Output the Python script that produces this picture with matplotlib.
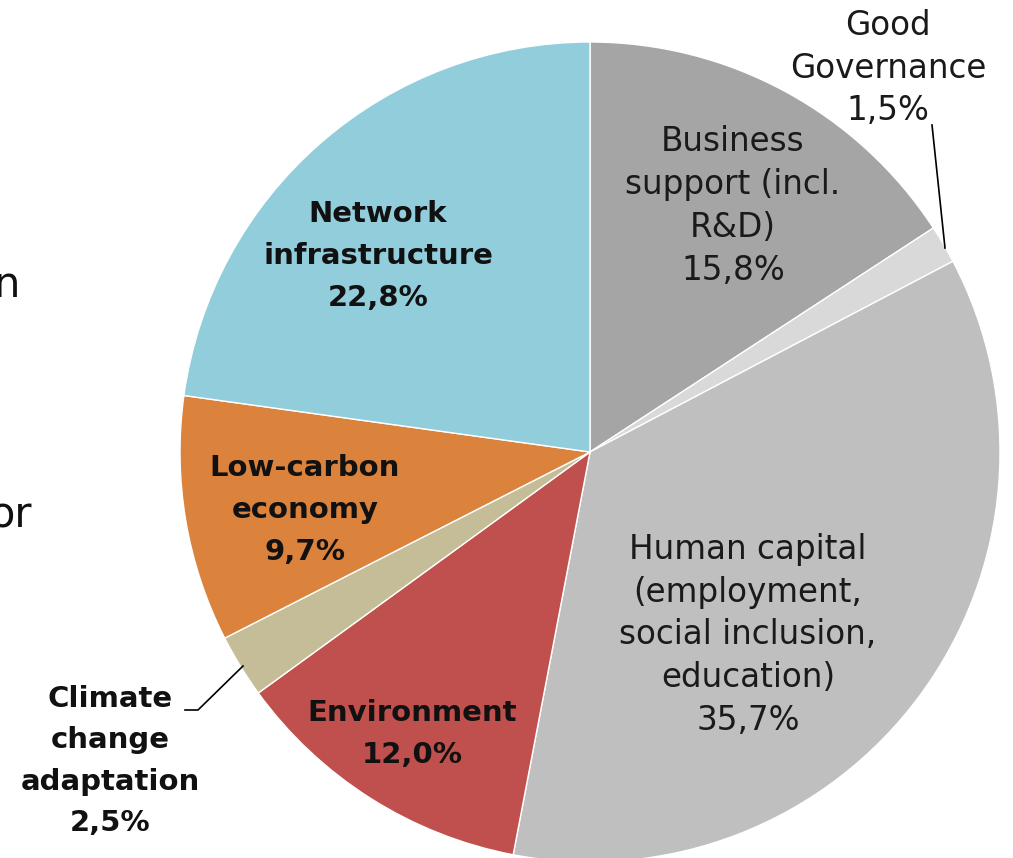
import matplotlib
matplotlib.use("Agg")
import matplotlib.pyplot as plt

labels = ["Business\nsupport (incl.\nR&D)", "Good\nGovernance", "Human capital\n(employment,\nsocial inclusion,\neducation)",
          "Environment", "Climate\nchange\nadaptation", "Low-carbon\neconomy", "Network\ninfrastructure"]
shares = [15.8, 1.5, 35.7, 12.0, 2.5, 9.7, 22.8]
colors = ["#A5A5A5", "#D9D9D9", "#BFBFBF", "#C0504D", "#C4BD97", "#DB823D", "#92CDDC"]
bold = [False, False, False, True, True, True, True]

W, H = 1013, 858
CX, CY, R = 590, 452, 410

def to_data(px, py):
    return (px - CX) / R, (CY - py) / R

fig = plt.figure(figsize=(W / 100, H / 100), dpi=100)
ax = fig.add_axes([(CX - R) / W, (H - CY - R) / H, 2 * R / W, 2 * R / H])
ax.axis("off")

ax.pie(shares, colors=colors, startangle=90, counterclock=False, radius=1,
       wedgeprops=dict(edgecolor="white", linewidth=1))
ax.set_xlim(-1, 1)
ax.set_ylim(-1, 1)
ax.set_aspect("auto")

# label centres in pixels
label_pos = [(733, 206), (888, 68), (748, 635), (412, 734), (110, 761), (305, 510), (378, 256)]

def pct(v):
    return ("%.1f%%" % v).replace(".", ",")

for lab, v, b, (px, py) in zip(labels, shares, bold, label_pos):
    x, y = to_data(px, py)
    if b:
        ax.text(x, y, lab + "\n" + pct(v), ha="center", va="center", fontsize=21,
                fontweight="bold", color="#111111", linespacing=1.62, clip_on=False)
    else:
        ax.text(x, y, lab + "\n" + pct(v), ha="center", va="center", fontsize=23.5,
                color="#1a1a1a", linespacing=1.38, clip_on=False)

# leader lines
x1, y1 = to_data(932, 125)
x2, y2 = to_data(945, 248)
ax.plot([x1, x2], [y1, y2], color="black", lw=1.2, clip_on=False)
xa, ya = to_data(185, 710)
xb, yb = to_data(198, 710)
xc, yc = to_data(243, 666)
ax.plot([xa, xb, xc], [ya, yb, yc], color="black", lw=1.2, clip_on=False)

# cut-off slide text at the left edge
fig.text(20 / W, 1 - 285 / H, "n", ha="right", va="center", fontsize=30, color="#111111")
fig.text(32 / W, 1 - 515 / H, "or", ha="right", va="center", fontsize=30, color="#111111")

fig.savefig("out.png", dpi=100)
